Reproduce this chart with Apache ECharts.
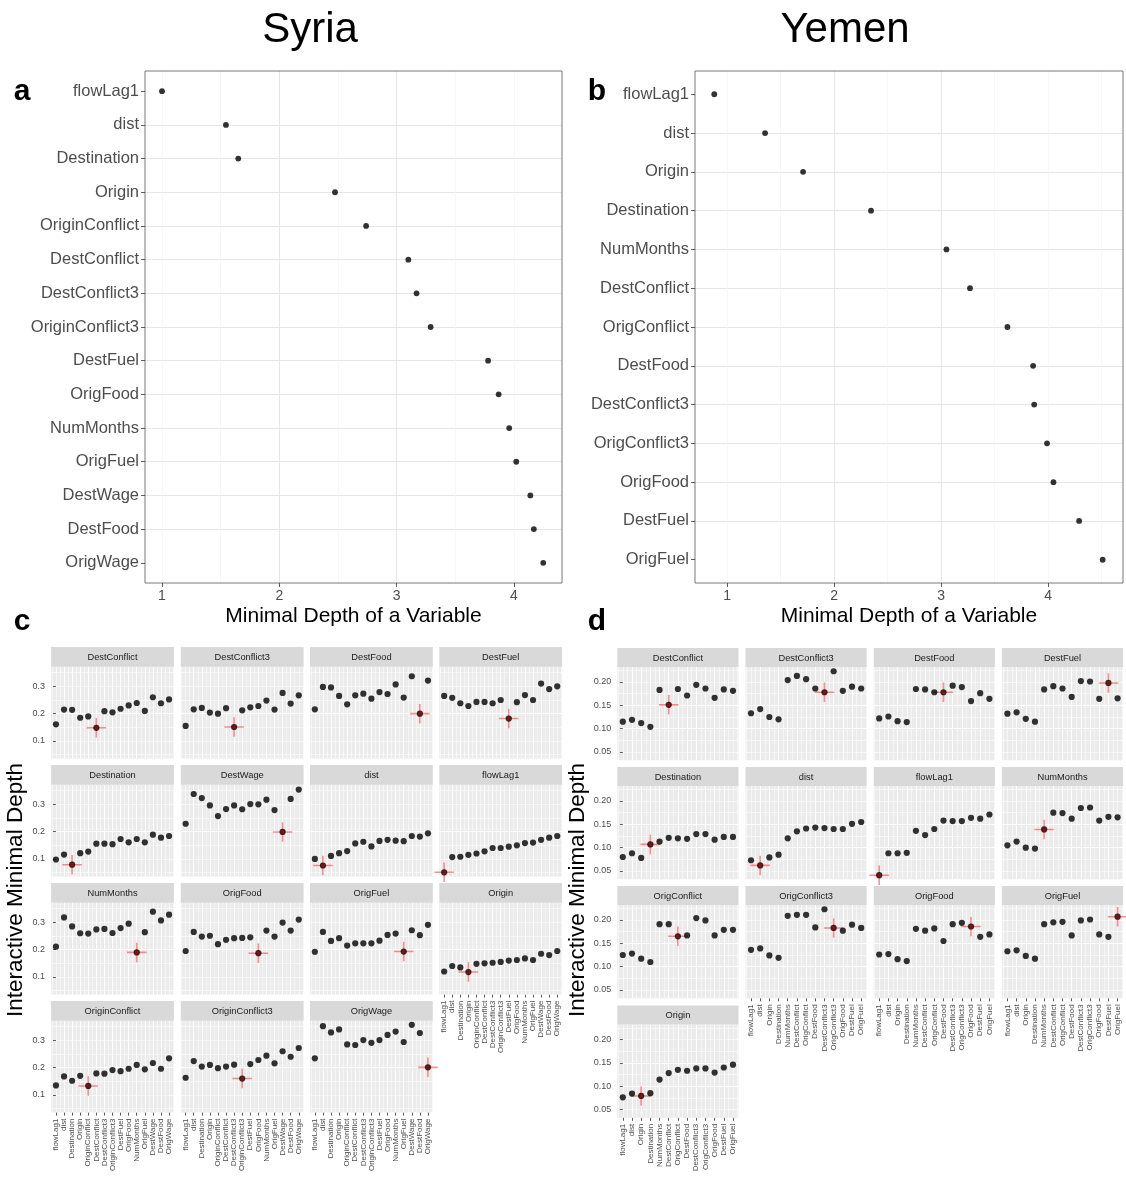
<!DOCTYPE html>
<html><head><meta charset="utf-8">
<script src="https://cdn.jsdelivr.net/npm/echarts@6/dist/echarts.min.js"></script>
<style>html,body{margin:0;padding:0;background:#fff}#c{width:1126px;height:1179px}</style>
</head><body><div id="c"></div>
<script>
// ---------- DATA ----------
const syriaVars = ['flowLag1','dist','Destination','Origin','OriginConflict','DestConflict','DestConflict3','OriginConflict3','DestFuel','OrigFood','NumMonths','OrigFuel','DestWage','DestFood','OrigWage'];
const syriaMinDepth = [1.0,1.545,1.65,2.475,2.74,3.10,3.17,3.29,3.78,3.87,3.96,4.02,4.14,4.17,4.25];
const yemenVars = ['flowLag1','dist','Origin','Destination','NumMonths','DestConflict','OrigConflict','DestFood','DestConflict3','OrigConflict3','OrigFood','DestFuel','OrigFuel'];
const yemenMinDepth = [0.88,1.355,1.71,2.345,3.05,3.27,3.62,3.86,3.87,3.99,4.05,4.29,4.51];

const depthTicks = [1,2,3,4];
const syriaYTicks = [0.1,0.2,0.3];
const yemenYTicks = [0.05,0.10,0.15,0.20];

// Syria interactive minimal depth (x order = syriaVars)
const S_DestConflict   = [0.161,0.215,0.214,0.185,0.190,0.148,0.209,0.205,0.218,0.230,0.239,0.210,0.260,0.238,0.252];
const S_DestConflict3  = [0.155,0.216,0.221,0.204,0.200,0.220,0.151,0.212,0.223,0.228,0.248,0.215,0.276,0.237,0.267];
const S_DestFood       = [0.216,0.298,0.296,0.265,0.234,0.267,0.273,0.255,0.279,0.272,0.307,0.259,0.337,0.200,0.321];
const S_DestFuel       = [0.265,0.258,0.238,0.228,0.243,0.243,0.238,0.250,0.182,0.242,0.268,0.250,0.310,0.290,0.300];
const S_Destination    = [0.098,0.116,0.079,0.121,0.127,0.156,0.156,0.154,0.173,0.161,0.173,0.161,0.189,0.178,0.184];
const S_DestWage       = [0.229,0.338,0.323,0.296,0.257,0.283,0.296,0.282,0.301,0.300,0.317,0.279,0.199,0.320,0.354];
const S_dist           = [0.100,0.076,0.111,0.121,0.129,0.157,0.163,0.146,0.166,0.170,0.167,0.165,0.184,0.182,0.194];
const S_flowLag1       = [0.051,0.107,0.108,0.115,0.120,0.128,0.140,0.140,0.145,0.150,0.158,0.160,0.170,0.178,0.184];
const S_NumMonths      = [0.211,0.318,0.285,0.260,0.259,0.274,0.276,0.261,0.279,0.295,0.190,0.264,0.339,0.307,0.328];
const S_OrigFood       = [0.195,0.265,0.248,0.251,0.220,0.236,0.242,0.243,0.245,0.187,0.270,0.248,0.299,0.270,0.310];
const S_OrigFuel       = [0.192,0.265,0.232,0.242,0.215,0.223,0.223,0.223,0.233,0.254,0.259,0.193,0.271,0.253,0.291];
const S_Origin         = [0.120,0.140,0.135,0.118,0.148,0.150,0.152,0.155,0.160,0.162,0.168,0.162,0.185,0.180,0.195];
const S_OriginConflict = [0.135,0.168,0.152,0.170,0.133,0.179,0.178,0.191,0.187,0.196,0.210,0.194,0.217,0.196,0.234];
const S_OriginConflict3= [0.163,0.224,0.204,0.210,0.198,0.204,0.211,0.160,0.213,0.228,0.244,0.216,0.260,0.240,0.272];
const S_OrigWage       = [0.234,0.352,0.329,0.340,0.285,0.283,0.301,0.291,0.301,0.320,0.332,0.294,0.357,0.327,0.201];

// Yemen interactive minimal depth (x order = yemenVars)
const Y_DestConflict   = [0.115,0.119,0.112,0.104,0.183,0.151,0.185,0.171,0.194,0.186,0.166,0.184,0.181];
const Y_DestConflict3  = [0.133,0.142,0.125,0.120,0.204,0.213,0.206,0.186,0.178,0.223,0.181,0.190,0.186];
const Y_DestFood       = [0.122,0.126,0.116,0.114,0.185,0.184,0.178,0.178,0.192,0.189,0.159,0.176,0.164];
const Y_DestFuel       = [0.132,0.135,0.121,0.115,0.184,0.191,0.186,0.168,0.202,0.201,0.164,0.198,0.165];
const Y_Destination    = [0.080,0.088,0.078,0.107,0.113,0.121,0.120,0.119,0.129,0.129,0.117,0.123,0.123];
const Y_dist           = [0.073,0.062,0.079,0.085,0.120,0.135,0.141,0.143,0.142,0.140,0.140,0.151,0.155];
const Y_flowLag1       = [0.041,0.088,0.088,0.089,0.136,0.127,0.140,0.158,0.157,0.157,0.164,0.162,0.171];
const Y_NumMonths      = [0.105,0.113,0.100,0.098,0.139,0.175,0.174,0.162,0.185,0.186,0.158,0.166,0.165];
const Y_OrigConflict   = [0.125,0.128,0.117,0.110,0.191,0.191,0.165,0.167,0.204,0.199,0.167,0.179,0.179];
const Y_OrigConflict3  = [0.136,0.139,0.124,0.119,0.209,0.211,0.211,0.184,0.223,0.183,0.177,0.190,0.183];
const Y_OrigFood       = [0.126,0.127,0.116,0.112,0.181,0.177,0.182,0.155,0.191,0.194,0.186,0.164,0.169];
const Y_OrigFuel       = [0.133,0.135,0.123,0.117,0.191,0.195,0.196,0.167,0.199,0.201,0.169,0.164,0.207];
const Y_Origin         = [0.076,0.084,0.079,0.085,0.114,0.128,0.135,0.133,0.138,0.138,0.129,0.140,0.146];

const syriaPanelNames = ['DestConflict','DestConflict3','DestFood','DestFuel','Destination','DestWage','dist','flowLag1','NumMonths','OrigFood','OrigFuel','Origin','OriginConflict','OriginConflict3','OrigWage'];
const syriaPanelValues = [S_DestConflict,S_DestConflict3,S_DestFood,S_DestFuel,S_Destination,S_DestWage,S_dist,S_flowLag1,S_NumMonths,S_OrigFood,S_OrigFuel,S_Origin,S_OriginConflict,S_OriginConflict3,S_OrigWage];
const yemenPanelNames = ['DestConflict','DestConflict3','DestFood','DestFuel','Destination','dist','flowLag1','NumMonths','OrigConflict','OrigConflict3','OrigFood','OrigFuel','Origin'];
const yemenPanelValues = [Y_DestConflict,Y_DestConflict3,Y_DestFood,Y_DestFuel,Y_Destination,Y_dist,Y_flowLag1,Y_NumMonths,Y_OrigConflict,Y_OrigConflict3,Y_OrigFood,Y_OrigFuel,Y_Origin];

// ---------- BUILD ----------
const FONT = '"Liberation Sans", Arial, Helvetica, sans-serif';
const option = {animation:false, backgroundColor:'#fff', textStyle:{fontFamily:FONT}, grid:[], xAxis:[], yAxis:[], series:[], graphic:[]};

function text(x, y, str, size, opts) {
  opts = opts || {};
  option.graphic.push({type:'text', x:x, y:y, rotation:opts.rotation||0, silent:true, z:100,
    style:{text:str, fill:opts.color||'#000', fontSize:size, fontFamily:FONT, fontWeight:opts.weight||'normal',
      align:opts.align||'center', verticalAlign:'middle', textAlign:opts.align||'center', textVerticalAlign:'middle'}});
}

function hiddenAxis(extra) {
  return Object.assign({type:'value', axisLine:{show:false}, axisTick:{show:false}, axisLabel:{show:false}}, extra);
}

function addDotplot(box, names, values, xmin, xmax) {
  const gi = option.grid.length;
  option.grid.push({left:box.left, top:box.top, width:box.width, height:box.height, show:true, backgroundColor:'#fff', borderWidth:0});
  option.xAxis.push(hiddenAxis({gridIndex:gi, position:'bottom', min:xmin, max:xmax, minInterval:0.5, maxInterval:0.5,
    splitLine:{show:true, showMinLine:false, showMaxLine:false, lineStyle:{color:'#f2f2f2', width:0.6}}}));
  const xi = option.xAxis.length;
  option.xAxis.push({gridIndex:gi, type:'value', position:'bottom', min:xmin, max:xmax, minInterval:1, maxInterval:1,
    axisLine:{show:false},
    axisTick:{show:true, length:4, customValues:depthTicks, lineStyle:{color:'#333', width:0.8}},
    axisLabel:{show:true, customValues:depthTicks, fontSize:14, color:'#4d4d4d', margin:6, fontFamily:FONT},
    splitLine:{show:true, showMinLine:false, showMaxLine:false, lineStyle:{color:'#e6e6e6', width:1}}});
  const idx = names.map((_, i) => i);
  const yi = option.yAxis.length;
  option.yAxis.push({gridIndex:gi, type:'value', position:'left', inverse:true, min:-0.6, max:names.length - 0.4, minInterval:1, maxInterval:1,
    axisLine:{show:false},
    axisTick:{show:true, length:4, customValues:idx, lineStyle:{color:'#333', width:0.8}},
    axisLabel:{show:true, customValues:idx, formatter:v => names[Math.round(v)] || '', fontSize:16.5, color:'#4d4d4d', margin:6, fontFamily:FONT},
    splitLine:{show:true, showMinLine:false, showMaxLine:false, lineStyle:{color:'#e6e6e6', width:1}}});
  option.series.push({type:'scatter', xAxisIndex:xi, yAxisIndex:yi, silent:true, symbolSize:5.8,
    itemStyle:{color:'#000'}, data: values.map((v, i) => [v, i])});
  option.graphic.push({type:'rect', silent:true, z:90, shape:{x:box.left, y:box.top, width:box.width, height:box.height},
    style:{fill:'none', stroke:'#555', lineWidth:0.8}});
}

const CROSS = 'path://M9.2,0H10.8V9.2H20V10.8H10.8V20H9.2V10.8H0V9.2H9.2Z';

function addFacets(vars, panelNames, panelValues, cfg) {
  const n = vars.length;
  const xticks = vars.map((_, i) => i);
  panelNames.forEach((pname, k) => {
    const r = Math.floor(k / 4), c = k % 4;
    const left = cfg.colLeft[c], stripTop = cfg.rowTop[r], top = stripTop + cfg.stripH;
    const isBottom = (k + 4 >= panelNames.length);
    const isLeft = (c === 0);
    const gi = option.grid.length;
    option.grid.push({left:left, top:top, width:cfg.W, height:cfg.H, show:true, backgroundColor:'#ebebeb', borderWidth:0});
    option.graphic.push({type:'rect', silent:true, z:50, shape:{x:left, y:stripTop, width:cfg.W, height:cfg.stripH}, style:{fill:'#d9d9d9'}});
    text(left + cfg.W / 2, stripTop + cfg.stripH / 2 + 0.5, pname, 9.3, {color:'#1a1a1a'});
    // x axes
    option.xAxis.push(hiddenAxis({gridIndex:gi, position:'bottom', min:-0.6, max:n - 0.4, minInterval:0.5, maxInterval:0.5,
      splitLine:{show:true, showMinLine:false, showMaxLine:false, lineStyle:{color:'#fff', width:0.55}}}));
    const xi = option.xAxis.length;
    option.xAxis.push({gridIndex:gi, type:'value', position:'bottom', min:-0.6, max:n - 0.4, minInterval:1, maxInterval:1,
      axisLine:{show:false},
      axisTick:{show:isBottom, length:3, customValues:xticks, lineStyle:{color:'#333', width:0.8}},
      axisLabel:{show:isBottom, customValues:xticks, rotate:90, formatter:v => vars[Math.round(v)] || '',
        fontSize:8, color:'#4d4d4d', margin:6, fontFamily:FONT},
      splitLine:{show:true, showMinLine:false, showMaxLine:false, lineStyle:{color:'#fff', width:1.1}}});
    // y axes
    option.yAxis.push(hiddenAxis({gridIndex:gi, position:'left', min:cfg.ymin, max:cfg.ymax, minInterval:cfg.minor, maxInterval:cfg.minor,
      splitLine:{show:true, showMinLine:false, showMaxLine:false, lineStyle:{color:'#fff', width:0.55}}}));
    const yi = option.yAxis.length;
    option.yAxis.push({gridIndex:gi, type:'value', position:'left', min:cfg.ymin, max:cfg.ymax, minInterval:cfg.major, maxInterval:cfg.major,
      axisLine:{show:false},
      axisTick:{show:isLeft, length:3, customValues:cfg.yticks, lineStyle:{color:'#333', width:0.8}},
      axisLabel:{show:isLeft, customValues:cfg.yticks, formatter:v => v.toFixed(cfg.dec), fontSize:9, color:'#4d4d4d', margin:6, fontFamily:FONT},
      splitLine:{show:true, showMinLine:false, showMaxLine:false, lineStyle:{color:'#fff', width:1.1}}});
    const vals = panelValues[k];
    const hi = vars.indexOf(pname);
    option.series.push({type:'scatter', xAxisIndex:xi, yAxisIndex:yi, silent:true, symbol:CROSS, symbolSize:19.5,
      itemStyle:{color:'rgba(255,0,0,0.55)'}, data:[[hi, vals[hi]]], z:2});
    option.series.push({type:'scatter', xAxisIndex:xi, yAxisIndex:yi, silent:true, symbolSize:6.2,
      itemStyle:{color:'#000'}, data: vals.map((v, i) => [i, v]), z:3});
    option.series.push({type:'scatter', xAxisIndex:xi, yAxisIndex:yi, silent:true, symbolSize:3.2,
      itemStyle:{color:'#c00000'}, data:[[hi, vals[hi]]], z:4});
  });
}

// panel a, b
addDotplot({left:145, top:71, width:417, height:512}, syriaVars, syriaMinDepth, 0.855, 4.41);
addDotplot({left:695, top:71, width:428, height:512}, yemenVars, yemenMinDepth, 0.70, 4.70);

// panel c, d
addFacets(syriaVars, syriaPanelNames, syriaPanelValues, {
  colLeft:[51.1, 180.8, 310.0, 439.3], W:122.8, rowTop:[647, 765, 883, 1001], stripH:19.7, H:91.9,
  ymin:0.0353, ymax:0.372, major:0.1, minor:0.05, yticks:syriaYTicks, dec:1});
addFacets(yemenVars, yemenPanelNames, yemenPanelValues, {
  colLeft:[617.3, 745.5, 873.7, 1001.9], W:121.2, rowTop:[648, 767, 886, 1005.5], stripH:19, H:93.3,
  ymin:0.0322, ymax:0.2321, major:0.05, minor:0.025, yticks:yemenYTicks, dec:2});

// texts
text(310, 30, 'Syria', 42);
text(845, 30, 'Yemen', 42);
text(22, 92, 'a', 30, {weight:'bold'});
text(597, 92, 'b', 30, {weight:'bold'});
text(22, 622, 'c', 30, {weight:'bold'});
text(597, 622, 'd', 30, {weight:'bold'});
text(353.5, 616, 'Minimal Depth of a Variable', 21);
text(909, 616, 'Minimal Depth of a Variable', 21);
text(16, 890, 'Interactive Minimal Depth', 22.5, {rotation:Math.PI / 2});
text(578, 890, 'Interactive Minimal Depth', 22.5, {rotation:Math.PI / 2});

const chart = echarts.init(document.getElementById('c'), null, {renderer:'canvas'});
chart.setOption(option);
</script>
</body></html>
